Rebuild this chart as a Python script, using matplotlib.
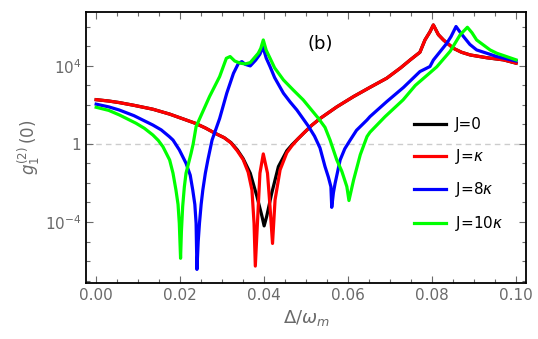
import numpy as np
import matplotlib
matplotlib.use("Agg")
import matplotlib.pyplot as plt
from matplotlib.ticker import FixedLocator, MultipleLocator, NullFormatter, FixedFormatter

plt.rcParams['font.family'] = ['DejaVu Sans']
plt.rcParams['mathtext.fontset'] = 'dejavusans'

# J = 0  (log10 of g1^(2)(0))
x_j0 = [0.0, 0.003, 0.0055, 0.009, 0.0135, 0.0175, 0.0214, 0.0236, 0.026, 0.0283,
        0.0305, 0.0321, 0.0336, 0.0350, 0.0367, 0.0383, 0.0395, 0.0400, 0.0406, 0.0418,
        0.0434, 0.0454, 0.0466, 0.0480, 0.0494, 0.0513, 0.0533, 0.0573, 0.0613, 0.0652,
        0.0692, 0.0725, 0.0748, 0.0771, 0.0783, 0.0795, 0.0803, 0.0815, 0.0827, 0.0851,
        0.0870, 0.0891, 0.093, 0.0970, 0.1]
lg_j0 = [2.27, 2.2, 2.12, 1.98, 1.78, 1.53, 1.23, 1.06, 0.82, 0.55,
         0.32, 0.07, -0.3, -0.75, -1.5, -2.7, -3.72, -4.2, -3.72, -2.53,
         -1.16, -0.35, -0.05, 0.25, 0.55, 0.95, 1.3, 1.9, 2.43, 2.9,
         3.37, 3.9, 4.31, 4.7, 5.33, 5.75, 6.1, 5.6, 5.33, 4.9,
         4.7, 4.56, 4.42, 4.31, 4.14]

# J = kappa
x_j1 = [0.0, 0.003, 0.0055, 0.009, 0.0135, 0.0175, 0.0214, 0.0236, 0.026, 0.0283,
        0.0305, 0.0321, 0.0336, 0.0350, 0.0362, 0.0371, 0.0376, 0.0379, 0.0386, 0.0390,
        0.0398, 0.0408, 0.0414, 0.0420, 0.0426, 0.0438, 0.0454, 0.0466, 0.0480, 0.0494,
        0.0513, 0.0533, 0.0573, 0.0613, 0.0652, 0.0692, 0.0725, 0.0748, 0.0771, 0.0783,
        0.0795, 0.0803, 0.0815, 0.0827, 0.0851, 0.0870, 0.0891, 0.093, 0.0970, 0.1]
lg_j1 = [2.27, 2.2, 2.12, 1.98, 1.78, 1.53, 1.23, 1.06, 0.82, 0.55,
         0.32, 0.05, -0.35, -0.8, -1.45, -2.36, -4.07, -6.26, -3.21, -1.5,
         -0.51, -1.5, -3.21, -5.1, -2.87, -1.33, -0.45, -0.1, 0.25, 0.55,
         0.95, 1.3, 1.9, 2.43, 2.9, 3.37, 3.9, 4.31, 4.7, 5.33,
         5.75, 6.1, 5.6, 5.33, 4.9, 4.7, 4.56, 4.42, 4.31, 4.14]

# J = 8 kappa
x_j8 = [0.0, 0.003, 0.0055, 0.009, 0.0135, 0.0155, 0.0174, 0.0183, 0.0198, 0.0214,
        0.0224, 0.0230, 0.0235, 0.0238, 0.0240, 0.0243, 0.0246, 0.0250, 0.0254, 0.0260,
        0.0266, 0.0276, 0.0294, 0.0311, 0.0327, 0.0339, 0.0347, 0.0355, 0.0367, 0.0380,
        0.0390, 0.0397, 0.0405, 0.0414, 0.0425, 0.0446, 0.0462, 0.0478, 0.0506, 0.0520,
        0.0533, 0.0545, 0.0553, 0.0559, 0.0561, 0.0565, 0.0569, 0.0581, 0.0592, 0.0605,
        0.0620, 0.0645, 0.0652, 0.0692, 0.0732, 0.0771, 0.0795, 0.0803, 0.0835, 0.0845,
        0.0857, 0.0866, 0.0875, 0.0890, 0.0906, 0.0954, 0.1]
lg_j8 = [2.04, 1.9, 1.74, 1.45, 0.97, 0.72, 0.38, 0.2, -0.3, -0.99,
         -1.6, -2.36, -3.1, -4.07, -6.43, -5.0, -4.07, -3.1, -2.36, -1.5,
         -0.82, 0.2, 1.3, 2.6, 3.62, 4.14, 4.22, 4.08, 4.0, 4.3,
         4.6, 4.98, 4.4, 3.97, 3.4, 2.6, 2.15, 1.74, 0.89, 0.4,
         -0.2, -1.16, -1.7, -2.19, -3.25, -2.5, -2.02, -0.82, -0.25, 0.2,
         0.7, 1.23, 1.4, 2.17, 2.9, 3.71, 3.97, 4.3, 5.16, 5.5,
         6.02, 5.75, 5.5, 5.1, 4.82, 4.48, 4.25]

# J = 10 kappa
x_j10 = [0.0, 0.003, 0.0055, 0.0095, 0.0115, 0.0135, 0.0148, 0.0159, 0.0175, 0.0183,
         0.0190, 0.0195, 0.0198, 0.0201, 0.0203, 0.0206, 0.0210, 0.0214, 0.0226, 0.0231,
         0.0238, 0.0270, 0.0294, 0.0310, 0.0319, 0.0330, 0.0343, 0.0355, 0.0367, 0.0386,
         0.0392, 0.0398, 0.0405, 0.0414, 0.0425, 0.0446, 0.0470, 0.0493, 0.0529, 0.0545,
         0.0557, 0.0573, 0.0585, 0.0597, 0.0602, 0.0613, 0.0629, 0.0645, 0.0652, 0.0670,
         0.0688, 0.0731, 0.0760, 0.0795, 0.0811, 0.0825, 0.0843, 0.0867, 0.0884, 0.0895,
         0.0906, 0.0938, 0.0954, 0.1]
lg_j10 = [1.88, 1.72, 1.49, 1.06, 0.8, 0.46, 0.18, -0.14, -0.82, -1.5,
          -2.36, -3.1, -4.07, -5.86, -4.5, -3.21, -2.2, -1.5, -0.48, 0.0,
          0.89, 2.43, 3.45, 4.39, 4.48, 4.25, 4.14, 4.1, 4.17, 4.65,
          4.9, 5.33, 4.8, 4.4, 3.9, 3.28, 2.75, 2.26, 1.32, 0.85,
          0.2, -0.82, -1.4, -2.19, -2.9, -1.85, -0.55, 0.38, 0.6, 1.0,
          1.4, 2.26, 3.0, 3.65, 3.95, 4.3, 4.75, 5.6, 5.98, 5.7,
          5.33, 4.82, 4.65, 4.31]

series = [(x_j0, lg_j0, 'black', 'J=0'),
          (x_j1, lg_j1, 'red', r'J=$\kappa$'),
          (x_j8, lg_j8, 'blue', r'J=8$\kappa$'),
          (x_j10, lg_j10, '#00ff00', r'J=10$\kappa$')]

fig = plt.figure(figsize=(5.38, 3.39), dpi=100)
ax = fig.add_axes([0.160, 0.165, 0.818, 0.800])

ax.axhline(1, color='#cccccc', lw=1, ls=(0, (4, 3)), zorder=1)

for xs, lg, c, lab in series:
    ax.plot(xs, 10 ** np.array(lg), color=c, lw=2.3, label=lab, zorder=3,
            solid_joinstyle='round')

ax.set_yscale('log')
ax.set_xlim(-0.0024, 0.1024)
ax.set_ylim(10 ** -7.13, 10 ** 6.77)

ax.xaxis.set_major_locator(MultipleLocator(0.02))
ax.xaxis.set_minor_locator(MultipleLocator(0.005))
ax.xaxis.set_major_formatter(plt.FuncFormatter(lambda v, p: f"{v:.2f}"))
ax.yaxis.set_major_locator(FixedLocator([1e-4, 1, 1e4]))
ax.yaxis.set_major_formatter(FixedFormatter([r'$10^{-4}$', '1', r'$10^{4}$']))
ax.yaxis.set_minor_locator(FixedLocator([10.0 ** k for k in range(-7, 7)]))
ax.yaxis.set_minor_formatter(NullFormatter())

gray = '#6a6a6a'
ax.tick_params(which='both', direction='in', top=True, right=True, colors=gray,
               labelsize=11, labelcolor=gray)
ax.tick_params(which='major', length=5, width=0.8)
ax.tick_params(which='minor', length=3, width=0.8)
for s in ax.spines.values():
    s.set_color('black')
    s.set_linewidth(1.3)

ax.set_xlabel(r'$\Delta/\omega_m$', fontsize=13, color=gray, labelpad=4)
ax.set_ylabel(r'$g_1^{(2)}\,(0)$', fontsize=12, color=gray, labelpad=2)

ax.text(0.0533, 10 ** 5.1, '(b)', fontsize=13, ha='center', va='center')

ax.legend(loc='center left', bbox_to_anchor=(0.745, 0.398), frameon=False,
          fontsize=11, handlelength=2.1, handletextpad=0.6, labelspacing=0.95,
          borderpad=0, borderaxespad=0)

fig.savefig('out.png', dpi=100)
